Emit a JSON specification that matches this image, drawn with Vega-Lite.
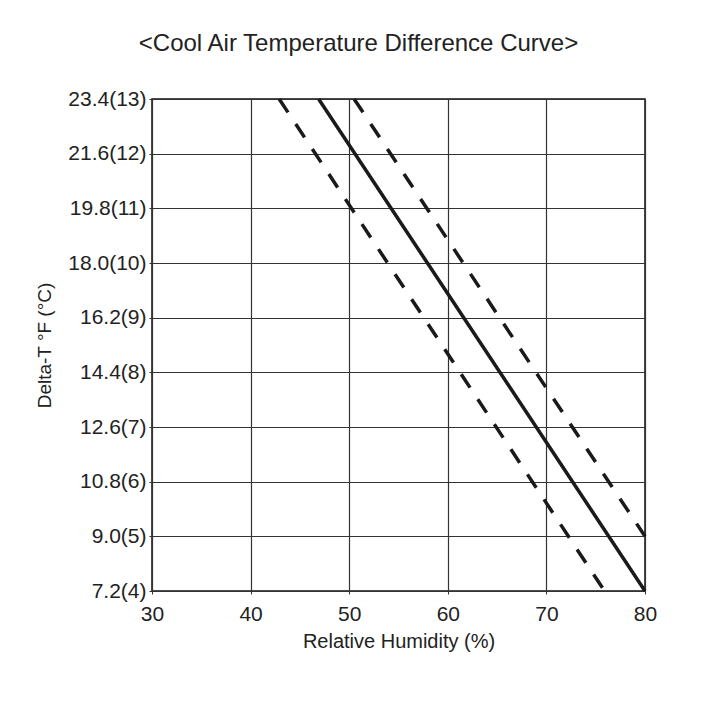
{
  "$schema": "https://vega.github.io/schema/vega-lite/v6.json",
  "width": 493,
  "height": 492,
  "autosize": {"type": "none"},
  "padding": {"left": 152, "top": 99, "right": 63, "bottom": 136},
  "background": "white",
  "title": {
    "text": "<Cool Air Temperature Difference Curve>",
    "fontSize": 24,
    "fontWeight": "normal",
    "font": "Liberation Sans",
    "color": "#222222",
    "anchor": "middle",
    "dx": -40,
    "offset": 32
  },
  "data": {
    "values": [
      {"series": "Standard", "rh": 46.9, "dt": 13},
      {"series": "Standard", "rh": 80, "dt": 4},
      {"series": "Lower limit", "rh": 42.9, "dt": 13},
      {"series": "Lower limit", "rh": 75.9, "dt": 4},
      {"series": "Upper limit", "rh": 50.5, "dt": 13},
      {"series": "Upper limit", "rh": 80, "dt": 5}
    ]
  },
  "mark": {"type": "line", "color": "#1a1a1a", "strokeWidth": 3.5, "strokeCap": "butt"},
  "encoding": {
    "x": {
      "field": "rh",
      "type": "quantitative",
      "scale": {"domain": [30, 80], "nice": false, "zero": false},
      "axis": {
        "values": [30, 40, 50, 60, 70, 80],
        "title": "Relative Humidity (%)",
        "titleFontSize": 20,
        "labelPadding": 9,
        "labelFlush": false,
        "titlePadding": 7
      }
    },
    "y": {
      "field": "dt",
      "type": "quantitative",
      "scale": {"domain": [4, 13], "nice": false, "zero": false},
      "axis": {
        "values": [4, 5, 6, 7, 8, 9, 10, 11, 12, 13],
        "labelExpr": "format(datum.value * 1.8, '.1f') + '(' + datum.value + ')'",
        "title": "Delta-T °F (°C)",
        "titleFontSize": 19,
        "labelPadding": 3,
        "labelFlush": false,
        "titlePadding": 13
      }
    },
    "detail": {"field": "series", "type": "nominal"},
    "strokeDash": {
      "field": "series",
      "type": "nominal",
      "scale": {
        "domain": ["Standard", "Lower limit", "Upper limit"],
        "range": [[1, 0], [16, 14], [16, 14]]
      },
      "legend": null
    }
  },
  "config": {
    "font": "Liberation Sans",
    "view": {"stroke": "#111111", "strokeWidth": 1.5},
    "axis": {
      "grid": true,
      "gridColor": "#333333",
      "gridWidth": 1.2,
      "gridOpacity": 1,
      "domain": false,
      "ticks": true,
      "tickColor": "#333333",
      "tickSize": 3,
      "labelFont": "Liberation Sans",
      "labelFontSize": 21,
      "labelColor": "#222222",
      "titleFont": "Liberation Sans",
      "titleFontWeight": "normal",
      "titleColor": "#222222"
    }
  }
}
